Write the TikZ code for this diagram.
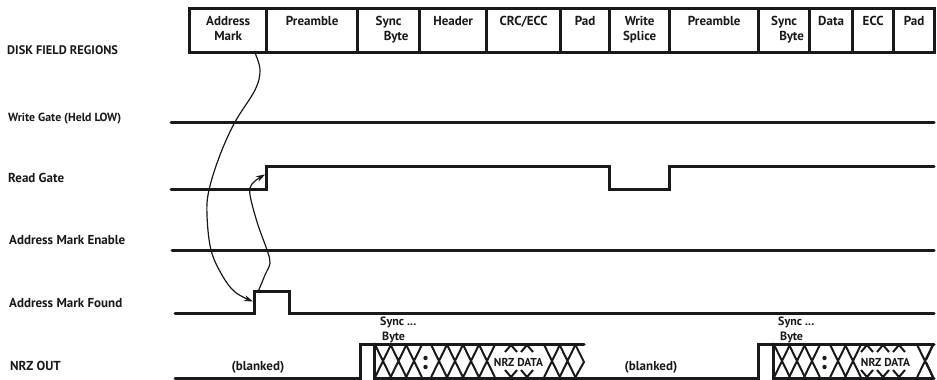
\documentclass[tikz,border=0pt]{standalone}
\usepackage{fontspec}
\setmainfont{PT Sans}
\usetikzlibrary{arrows.meta}
\tikzset{
  txt/.style={font=\fontsize{13}{15}\selectfont\bfseries,inner sep=0pt,text=black!90},
  lbl/.style={txt,anchor=west},
  sig/.style={line width=3pt,line join=miter,line cap=round,black!90},
  cell/.style={line width=2pt,black!90},
  link/.style={line width=1.2pt,black!90,-{Stealth[length=9pt,width=6pt]}},
  fld/.style={draw=black!90,line width=3.3pt,anchor=north west,inner sep=0pt,minimum height=44pt,txt,align=center}
}
\newcommand{\fldnode}[5]{%
  \node[fld,minimum width=#3pt] (#1) at (#2,7) {\parbox[c][40pt][t]{#3pt}{\centering\vspace{6pt}#4\par}};}
\newcommand{\xcell}[1]{\draw[cell] (#1-7.8,345)--(#1+7.8,377) (#1-7.8,377)--(#1+7.8,345);}
\newcommand{\chev}[1]{\draw[cell] (#1-6,352)--(#1,345)--(#1+6,352) (#1-6,370)--(#1,377)--(#1+6,370);}
\begin{document}
\begin{tikzpicture}[x=1pt,y=-1pt]
\useasboundingbox (0,0) rectangle (937,380);
% field boxes
\fldnode{f1}{188}{77}{Address\\Mark}{}
\fldnode{f2}{265}{91}{Preamble}{}
\fldnode{f3}{356}{62}{Sync\\\hspace*{15pt}Byte}{}
\fldnode{f4}{418}{67}{Header}{}
\fldnode{f5}{485}{74}{CRC/ECC}{}
\fldnode{f6}{559}{49}{Pad}{}
\fldnode{f7}{608}{60}{Write\\Splice}{}
\fldnode{f8}{668}{89}{Preamble}{}
\fldnode{f9}{757}{51}{Sync\\\hspace*{15pt}Byte}{}
\fldnode{f10}{808}{43}{Data}{}
\fldnode{f11}{851}{41}{ECC}{}
\fldnode{f12}{892}{41}{Pad}{}
% left labels
\node[lbl,font=\fontsize{12.4}{15}\selectfont\bfseries] (l1) at (7,50) {DISK FIELD REGIONS};
\node[lbl,font=\fontsize{11.8}{15}\selectfont\bfseries] (l2) at (8,119) {Write Gate (Held LOW)};
\node[lbl] (l3) at (8,178) {Read Gate};
\node[lbl] (l4) at (9,240) {Address Mark Enable};
\node[lbl] (l5) at (9,303) {Address Mark Found};
\node[lbl] (l6) at (10,366) {NRZ OUT};
% signals
\draw[sig] (171,122)--(934,122);
\draw[sig] (171,189)--(266,189)--(266,166)--(609,166)--(609,189)--(669,189)--(669,166)--(934,166);
\draw[sig] (172,250)--(934,250);
\draw[sig] (175,313)--(254,313)--(254,291)--(289,291)--(289,313)--(934,313);
\draw[sig] (175,378)--(360,378)--(360,344)--(584,344);
\draw[sig] (584,378)--(758,378)--(758,344)--(934,344);
% NRZ data cells
\draw[sig] (374,344)--(374,378)--(584,378);
\draw[sig] (773,344)--(773,378)--(934,378);
\foreach \c in {383,398.5,414,439,455,471,487,552,567.5}{\xcell{\c}}
\draw[cell] (575.5,345)--(584,362)--(575.5,377);
\foreach \c in {511,527}{\chev{\c}}
\foreach \c in {782,797,812,838,853,925}{\xcell{\c}}
\foreach \c in {867,883,899}{\chev{\c}}
\draw[cell] (933,345)--(926,360) (933,377)--(926,362);
\fill[black!90] (425.5,358) circle (2.2) (425.5,367) circle (2.2);
\fill[black!90] (824.5,358) circle (2.2) (824.5,367) circle (2.2);
% texts in data
\node[txt,font=\fontsize{11.5}{14}\selectfont\bfseries,fill=white,inner sep=0.5pt] (d1) at (518.5,362) {NRZ DATA};
\node[txt,font=\fontsize{11.5}{14}\selectfont\bfseries,fill=white,inner sep=0.5pt] (d2) at (885.5,362) {NRZ DATA};
\node[txt,font=\fontsize{12}{15}\selectfont\bfseries,align=left,anchor=west] (s1) at (380,329.5) {Sync ...\\[0pt]\hspace*{2pt}Byte};
\node[txt,font=\fontsize{12}{15}\selectfont\bfseries,align=left,anchor=west] (s2) at (778,329.5) {Sync ...\\[0pt]\hspace*{2pt}Byte};
\node[txt] (b1) at (258,367) {(blanked)};
\node[txt] (b2) at (651,367) {(blanked)};
% cause-effect links
\coordinate (c1s) at (255,53);
\coordinate (c1e) at (253,301.5);
\coordinate (c2s) at (258,292);
\coordinate (c2e) at (265,174.5);
\draw[link] plot[smooth,tension=0.6] coordinates {(c1s) (260,70) (255,90) (235,122) (220,155) (209,190) (207,215) (211,250) (222,275) (235,292) (c1e)};
\draw[link] plot[smooth,tension=0.6] coordinates {(c2s) (265,275) (270,263) (267,250) (258,225) (251,200) (250,188) (255,181) (c2e)};
\end{tikzpicture}
\end{document}
